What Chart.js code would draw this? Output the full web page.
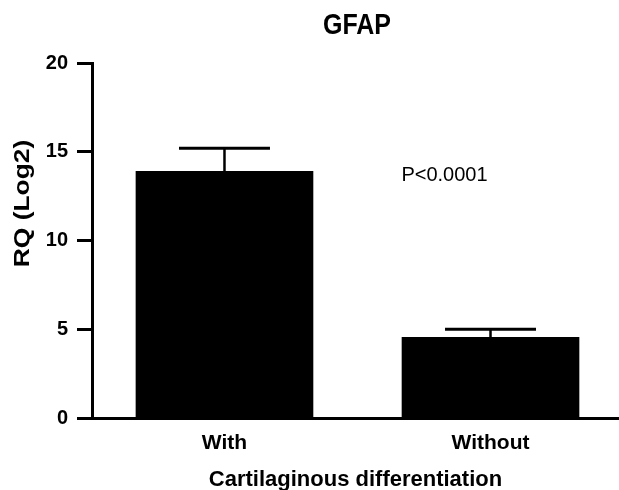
<!DOCTYPE html>
<html>
<head>
<meta charset="utf-8">
<script src="https://cdn.jsdelivr.net/npm/chart.js@4.4.0/dist/chart.umd.min.js"></script>
<style>
  html, body { margin: 0; padding: 0; background: #fff; }
</style>
</head>
<body>
<canvas id="barChart" width="619" height="490"></canvas>
<script>
const groups = ['With', 'Without'];
const rqMeans = [13.9, 4.55];
const rqSem = [1.3, 0.45];
const pLabel = 'P<0.0001';
const chartTitle = 'GFAP';
const yTitle = 'RQ (Log2)';
const xTitle = 'Cartilaginous differentiation';

const FONT = '"Liberation Sans", Arial, Helvetica, sans-serif';

// one point per group, group index on a linear x axis
const barData = groups.map((g, i) => ({ x: i, y: rqMeans[i] }));

// upper error bars (mean + SEM), drawn on top of the bars
const errorBars = {
    id: 'errorBars',
    afterDatasetsDraw(chart) {
        const ctx = chart.ctx;
        const y = chart.scales.y;
        const meta = chart.getDatasetMeta(0);
        ctx.save();
        ctx.strokeStyle = '#000';
        meta.data.forEach((bar, i) => {
            const top = y.getPixelForValue(rqMeans[i] + rqSem[i]);
            const half = bar.width * 0.257;
            ctx.lineWidth = 2.5;
            ctx.beginPath();
            ctx.moveTo(bar.x, bar.y);
            ctx.lineTo(bar.x, top);
            ctx.stroke();
            ctx.lineWidth = 3;
            ctx.beginPath();
            ctx.moveTo(bar.x - half, top);
            ctx.lineTo(bar.x + half, top);
            ctx.stroke();
        });
        ctx.restore();
    }
};

// title, y axis label and the p value
const labels = {
    id: 'labels',
    afterDraw(chart) {
        const {ctx, scales} = chart;
        ctx.save();
        ctx.fillStyle = '#000';
        ctx.textAlign = 'center';
        ctx.textBaseline = 'middle';

        ctx.save();
        ctx.translate(357, 26);
        ctx.scale(1, 1.15);
        ctx.font = 'bold 25px ' + FONT;
        ctx.fillText(chartTitle, 0, 0);
        ctx.restore();

        ctx.save();
        ctx.translate(23, 203.5);
        ctx.rotate(-Math.PI / 2);
        ctx.scale(1.2, 1);
        ctx.font = 'bold 22px ' + FONT;
        ctx.fillText(yTitle, 0, 0);
        ctx.restore();

        ctx.font = '20px ' + FONT;
        ctx.fillText(pLabel, scales.x.getPixelForValue(1) - 46, scales.y.getPixelForValue(13.65));
        ctx.restore();
    }
};

const ctx = document.getElementById('barChart').getContext('2d');
new Chart(ctx, {
    type: 'bar',
    data: {
        datasets: [{
            data: barData,
            backgroundColor: '#000',
            borderWidth: 0,
            barThickness: 177
        }]
    },
    options: {
        responsive: false,
        animation: false,
        layout: { padding: { top: 63, right: 0, left: 0, bottom: 0 } },
        plugins: {
            legend: { display: false },
            tooltip: { enabled: false }
        },
        scales: {
            x: {
                type: 'linear',
                offset: false,
                min: -0.498,
                max: 1.483,
                afterFit: scale => { scale.height = 72; },
                afterBuildTicks: scale => {
                    scale.ticks = groups.map((g, i) => ({ value: i }));
                },
                grid: { display: false, drawTicks: false },
                border: { display: true, width: 3, color: '#000' },
                ticks: {
                    color: '#000',
                    padding: 13,
                    callback: value => groups[value],
                    font: { family: FONT, size: 21, weight: 'bold' }
                },
                title: {
                    display: true,
                    text: xTitle,
                    color: '#000',
                    padding: { top: 0, bottom: -3 },
                    font: { family: FONT, size: 22, weight: 'bold' }
                }
            },
            y: {
                min: 0,
                max: 20,
                afterFit: scale => { scale.width = 92; },
                grid: {
                    drawOnChartArea: false,
                    tickLength: 15,
                    tickWidth: 3,
                    tickColor: '#000'
                },
                border: { display: true, width: 3, color: '#000' },
                ticks: {
                    stepSize: 5,
                    color: '#000',
                    padding: 9,
                    font: { family: FONT, size: 20, weight: 'bold' }
                }
            }
        }
    },
    plugins: [errorBars, labels]
});
</script>
</body>
</html>
